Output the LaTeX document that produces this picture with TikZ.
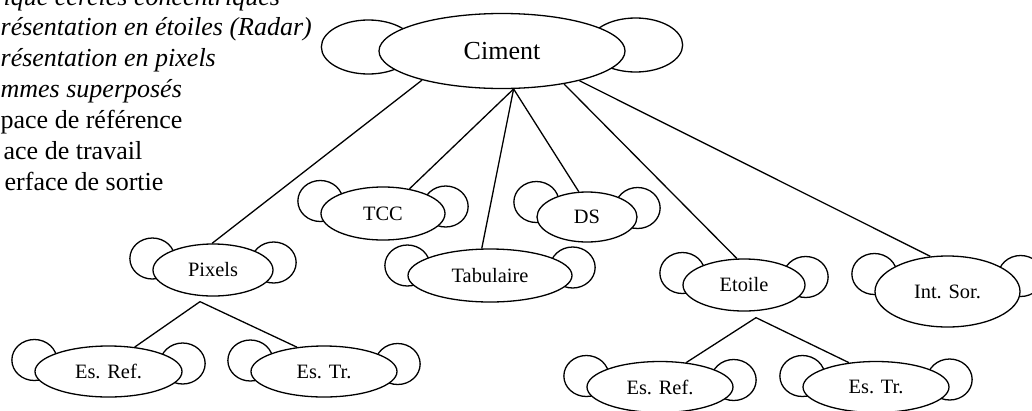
\documentclass[tikz,border=0pt]{standalone}
\usepackage{fontspec}
\setmainfont{Liberation Serif}
\usetikzlibrary{shapes.geometric}
\pgfdeclarelayer{background}
\pgfsetlayers{background,main}
\begin{document}
\begin{tikzpicture}[x=1pt,y=-1pt,line width=1.3pt,
  mainnode/.style={ellipse,draw,fill=white,line width=1.3pt,inner sep=0pt,font=\fontsize{20.4}{24}\selectfont},
  ear/.style={ellipse,draw=black,fill=white,line width=1.3pt,inner sep=0pt,minimum width=45pt,minimum height=41pt},
  bigear/.style={ellipse,draw=black,fill=white,line width=1.3pt,inner sep=0pt,minimum width=94pt,minimum height=54pt},
  legend/.style={anchor=base west,inner sep=0pt,font=\fontsize{26}{30}\selectfont},
  link/.style={draw,line width=1.3pt}]
\clip (0,0) rectangle (1032,410);
% legend
\node[legend,font=\fontsize{26}{30}\selectfont\itshape] (leg1) at (3,5) {ique cercles concentriques};
\node[legend,font=\fontsize{26}{30}\selectfont\itshape] (leg2) at (0,35.5) {résentation en étoiles (Radar)};
\node[legend,font=\fontsize{26}{30}\selectfont\itshape] (leg3) at (0,66.5) {résentation en pixels};
\node[legend,font=\fontsize{26}{30}\selectfont\itshape] (leg4) at (0,97.5) {mmes superposés};
\node[legend] (leg5) at (0,128) {pace de référence};
\node[legend] (leg6) at (3,159) {ace de travail};
\node[legend] (leg7) at (4,190) {erface de sortie};
% main nodes
\node[mainnode,minimum width=246pt,minimum height=75pt,font=\fontsize{26}{30}\selectfont] (ciment) at (502,51) {Ciment};
\node[mainnode,minimum width=124pt,minimum height=53pt] (tcc) at (383,213.5) {TCC};
\node[mainnode,minimum width=100pt,minimum height=50pt] (ds) at (587,217) {DS};
\node[mainnode,minimum width=120pt,minimum height=52pt] (pix) at (213,270) {Pixels};
\node[mainnode,minimum width=164pt,minimum height=53pt] (tab) at (490,275.5) {Tabulaire};
\node[mainnode,minimum width=122pt,minimum height=52pt] (eto) at (744,285) {Etoile};
\node[mainnode,minimum width=145pt,minimum height=71pt] (int) at (947.5,291.5) {Int. Sor.};
\node[mainnode,minimum width=147pt,minimum height=51pt] (er1) at (108.5,371.5) {Es. Ref.};
\node[mainnode,minimum width=146pt,minimum height=51pt] (et1) at (324,371.5) {Es. Tr.};
\node[mainnode,minimum width=146pt,minimum height=51pt] (er2) at (660,387) {Es. Ref.};
\node[mainnode,minimum width=146pt,minimum height=51pt] (et2) at (876,387) {Es. Tr.};
% ears behind
\begin{pgfonlayer}{background}
\begin{scope}[line width=1.3pt]
\node[bigear] (ciment-l) at ([xshift=-10pt,yshift=4pt]ciment.west) {};
\node[bigear] (ciment-r) at ([xshift=10pt,yshift=6pt]ciment.east) {};
\foreach \n/\l/\r in {tcc/12.5/7,ds/15/9,pix/11.5/7.5,tab/10/8,eto/12/8,int/17.5/15.5,er1/11.5/8,et1/11/7.5,er2/11/7,et2/11/7.5}{
  \node[ear] (\n-l) at ([yshift=\l pt]\n.west) {};
  \node[ear] (\n-r) at ([yshift=\r pt]\n.east) {};
}
\end{scope}
\end{pgfonlayer}
% junctions
\coordinate (pj) at ([xshift=-13pt,yshift=-5pt]pix.south);
\coordinate (ej) at ([xshift=12pt,yshift=-6pt]eto.south);
% connectors
\draw[link] (ciment.200) -- (pix.92);
\draw[link] (ciment.287) -- (tcc.43);
\draw[link] (ciment.287) -- (tab.107);
\draw[link] (ciment.287) -- (ds.108);
\draw[link] (ciment.332) -- (eto.105);
\draw[link] (ciment.339) -- (int.116);
\draw[link] (pj) -- (er1.43);
\draw[link] (pj) -- (et1.138);
\draw[link] (ej) -- (er2.43);
\draw[link] (ej) -- (et2.138);
\end{tikzpicture}
\end{document}
